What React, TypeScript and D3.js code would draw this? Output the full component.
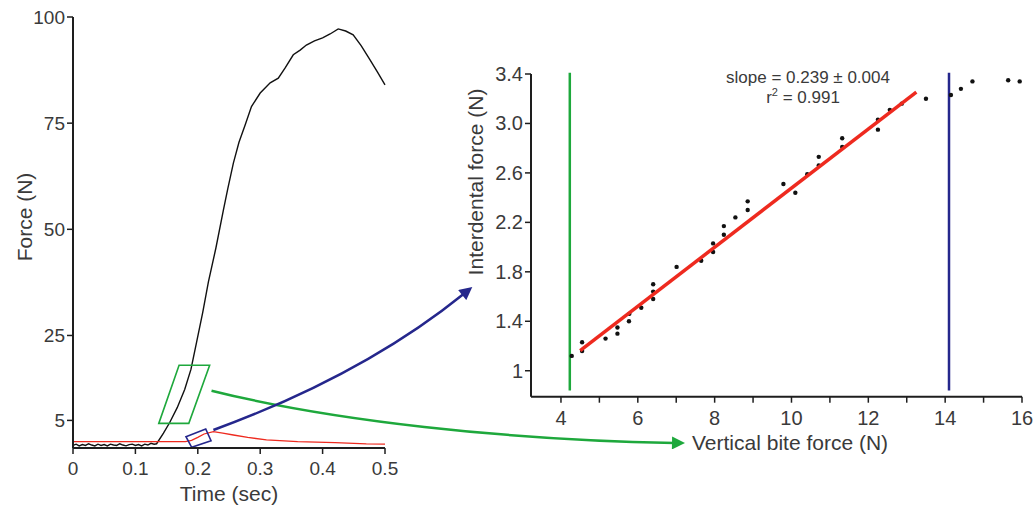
import React from 'react'
import * as d3 from 'd3'

// left panel: force traces over time
const TRACE_TIME = [
  0, 0.005, 0.01, 0.015, 0.02, 0.025, 0.03, 0.035, 0.04, 0.045, 0.05, 0.055, 0.06, 0.065,
  0.07, 0.075, 0.08, 0.085, 0.09, 0.095, 0.1, 0.105, 0.11, 0.115, 0.12, 0.125, 0.13, 0.134,
  0.145, 0.155, 0.167, 0.179, 0.189, 0.198, 0.208, 0.217, 0.229, 0.241, 0.248, 0.257, 0.266,
  0.276, 0.286, 0.3, 0.316, 0.329, 0.34, 0.353, 0.364, 0.374, 0.387, 0.4, 0.412, 0.425,
  0.437, 0.449, 0.462, 0.476, 0.488, 0.5,
]
const VERTICAL_FORCE = [
  -0.9, -0.6, -1.0, -0.7, -0.9, -0.5, -0.8, -1.0, -0.6, -0.9, -0.7, -1.0, -0.6, -0.8,
  -0.9, -0.5, -0.8, -1.0, -0.7, -0.6, -0.9, -0.7, -1.0, -0.6, -0.8, -0.4, -0.6, -0.5,
  2.0, 4.5, 8.0, 12.3, 17.0, 23.4, 30.5, 37.6, 45.6, 54.5, 59.5, 65.6, 70.5,
  74.6, 78.9, 82.1, 84.5, 85.6, 88.0, 91.1, 92.2, 93.4, 94.4, 95.1, 96.0, 97.2,
  96.7, 95.8, 93.2, 89.9, 87.0, 84.0,
]
const INTERDENTAL_TIME = [0, 0.18, 0.19, 0.2, 0.21, 0.225, 0.24, 0.257, 0.28, 0.31, 0.36, 0.42, 0.47, 0.5]
const INTERDENTAL_TRACE = [0, 0, 0.3, 1.0, 1.8, 2.34, 2.0, 1.56, 1.0, 0.4, 0.0, -0.25, -0.55, -0.6]

const LEFT_X_TICKS = [0, 0.1, 0.2, 0.3, 0.4, 0.5]
const LEFT_Y_TICKS = [5, 25, 50, 75, 100]

// selection boxes drawn on the traces (time, force)
const GREEN_BOX = [[0.1375, 4.3], [0.17, 18.0], [0.219, 18.0], [0.1856, 4.3]]
const BLUE_BOX = [[0.181, 1.16], [0.2127, 2.97], [0.2212, 0.22], [0.1902, -1.34]]

// right panel: interdental vs vertical bite force
const BITE = [
  4.28, 4.55, 4.55, 5.16, 5.47, 5.47, 5.77, 5.78, 6.09, 6.4, 6.4, 6.4, 7.01, 7.65, 7.96, 7.96,
  8.24, 8.24, 8.54, 8.86, 8.86, 9.79, 10.1, 10.41, 10.71, 10.71, 11.32, 11.32, 12.25, 12.25,
  12.56, 12.87, 13.5, 14.15, 14.41, 14.71, 15.64, 15.94,
]
const INTERDENTAL = [
  1.12, 1.23, 1.16, 1.26, 1.35, 1.3, 1.4, 1.46, 1.51, 1.7, 1.64, 1.58, 1.84, 1.89, 2.03, 1.96,
  2.17, 2.1, 2.24, 2.37, 2.3, 2.51, 2.44, 2.59, 2.73, 2.66, 2.88, 2.81, 3.03, 2.95,
  3.11, 3.16, 3.2, 3.23, 3.28, 3.34, 3.35, 3.34,
]
const FIT_SLOPE = 0.239
const FIT_INTERCEPT = 0.087
const FIT_RANGE = [4.5, 13.25]
const WINDOW_START = 4.23
const WINDOW_END = 14.1

const RIGHT_X_TICKS = [4, 6, 8, 10, 12, 14, 16]
const RIGHT_X_MINOR = [5, 7, 9, 11, 13, 15]
const RIGHT_Y_TICKS = [1, 1.4, 1.8, 2.2, 2.6, 3.0, 3.4]
const RIGHT_Y_LABELS = ['1', '1.4', '1.8', '2.2', '2.6', '3.0', '3.4']

const FONT = '"Liberation Sans", Arial, sans-serif'
const TEXT = '#3a3a3a'
const AXIS = '#1e1e1e'
const GREEN = '#1ea83c'
const BLUE = '#25278c'
const RED = '#ee2a1f'

export default function App() {
  const x = d3.scaleLinear().domain([0, 0.5]).range([73, 385])
  const y = d3.scaleLinear().domain([-1.5, 100]).range([448, 17])
  const rx = d3.scaleLinear().domain([3.22, 16]).range([531, 1022])
  const ry = d3.scaleLinear().domain([0.79, 3.4]).range([396.7, 74])

  const line = d3.line<number[]>().x(d => x(d[0])).y(d => y(d[1]))
  const black = line(TRACE_TIME.map((t, i) => [t, VERTICAL_FORCE[i]]))
  const red = line(INTERDENTAL_TIME.map((t, i) => [t, INTERDENTAL_TRACE[i]]))
  const box = (pts: number[][]) => line(pts) + 'Z'

  const fit = d3.line<number>().x(d => rx(d)).y(d => ry(FIT_SLOPE * d + FIT_INTERCEPT))(FIT_RANGE)

  // connecting arrows, from the boxes on the left to the right panel's axes
  const gs = [x(0.222), y(12)]
  const ge = [rx(7.27) - 12, ry(0.416)]
  const greenArrow = `M${gs[0]},${gs[1]} C${gs[0] + 120},${gs[1] + 30} ${ge[0] - 170},${ge[1] - 3} ${ge[0]},${ge[1]}`
  const bs = [x(0.225), y(2.74)]
  const be = [rx(1.69), ry(1.69)]
  const blueArrow = `M${bs[0]},${bs[1]} Q${bs[0] + 150},${bs[1] - 55} ${be[0] - 8},${be[1] + 8}`

  const tickText = { fontFamily: FONT, fill: TEXT }

  return (
    <div style={{ position: 'absolute', left: 0, top: 0 }}>
      <svg width={1035} height={506} style={{ display: 'block', background: '#fff' }}>
        <defs>
          <marker id="headGreen" viewBox="0 0 10 10" refX={2} refY={5} markerUnits="userSpaceOnUse"
            markerWidth={14} markerHeight={13} orient="auto">
            <path d="M0,0 L10,5 L0,10 Z" fill={GREEN} />
          </marker>
          <marker id="headBlue" viewBox="0 0 10 10" refX={2} refY={5} markerUnits="userSpaceOnUse"
            markerWidth={14} markerHeight={13} orient="auto">
            <path d="M0,0 L10,5 L0,10 Z" fill={BLUE} />
          </marker>
        </defs>

        {/* left panel */}
        <path d={black!} fill="none" stroke="#111" strokeWidth={1.4} />
        <path d={red!} fill="none" stroke={RED} strokeWidth={1.3} />
        <path d={box(GREEN_BOX)} fill="none" stroke={GREEN} strokeWidth={1.6} />
        <path d={box(BLUE_BOX)} fill="none" stroke={BLUE} strokeWidth={1.6} />

        <line x1={x(0)} x2={x(0)} y1={y(100)} y2={y(-1.5)} stroke={AXIS} strokeWidth={2} />
        <line x1={x(0)} x2={x(0.5)} y1={y(-1.5)} y2={y(-1.5)} stroke={AXIS} strokeWidth={2} />
        {LEFT_Y_TICKS.map(t => (
          <g key={'ly' + t}>
            <line x1={x(0) - 6} x2={x(0)} y1={y(t)} y2={y(t)} stroke={AXIS} strokeWidth={1.5} />
            <text x={x(0) - 8} y={y(t)} dy="0.35em" textAnchor="end" fontSize={19} {...tickText}>{t}</text>
          </g>
        ))}
        {LEFT_X_TICKS.map(t => (
          <g key={'lx' + t}>
            <line x1={x(t)} x2={x(t)} y1={y(-1.5)} y2={y(-1.5) + 6} stroke={AXIS} strokeWidth={1.5} />
            <text x={x(t)} y={475} textAnchor="middle" fontSize={19} {...tickText}>{t}</text>
          </g>
        ))}
        <text x={229} y={501} textAnchor="middle" fontSize={21} {...tickText}>Time (sec)</text>
        <text transform="translate(32,217) rotate(-90)" textAnchor="middle" fontSize={21} {...tickText}>Force (N)</text>

        {/* right panel */}
        <line x1={rx(WINDOW_START)} x2={rx(WINDOW_START)} y1={ry(3.41)} y2={ry(0.84)} stroke={GREEN} strokeWidth={2.5} />
        <line x1={rx(WINDOW_END)} x2={rx(WINDOW_END)} y1={ry(3.41)} y2={ry(0.84)} stroke={BLUE} strokeWidth={2.5} />
        {BITE.map((b, i) => (
          <circle key={'p' + i} cx={rx(b)} cy={ry(INTERDENTAL[i])} r={2.2} fill="#111" />
        ))}
        <path d={fit!} stroke={RED} strokeWidth={3.5} fill="none" />

        <line x1={rx(3.22)} x2={rx(3.22)} y1={ry(3.4)} y2={ry(0.79)} stroke={AXIS} strokeWidth={2} />
        <line x1={rx(3.22)} x2={rx(16)} y1={ry(0.79)} y2={ry(0.79)} stroke={AXIS} strokeWidth={2} />
        {RIGHT_Y_TICKS.map((t, i) => (
          <g key={'ry' + t}>
            <line x1={rx(3.22) - 6} x2={rx(3.22)} y1={ry(t)} y2={ry(t)} stroke={AXIS} strokeWidth={1.5} />
            <text x={rx(3.22) - 8} y={ry(t)} dy="0.35em" textAnchor="end" fontSize={20} {...tickText}>{RIGHT_Y_LABELS[i]}</text>
          </g>
        ))}
        {RIGHT_X_TICKS.concat(RIGHT_X_MINOR).map(t => (
          <line key={'rxt' + t} x1={rx(t)} x2={rx(t)} y1={ry(0.79)} y2={ry(0.79) + 6} stroke={AXIS} strokeWidth={1.5} />
        ))}
        {RIGHT_X_TICKS.map(t => (
          <text key={'rxl' + t} x={rx(t)} y={425} textAnchor="middle" fontSize={20} {...tickText}>{t}</text>
        ))}
        <text x={692} y={450} fontSize={21} {...tickText}>Vertical bite force (N)</text>
        <text transform="translate(483,182) rotate(-90)" textAnchor="middle" fontSize={21} {...tickText}>Interdental force (N)</text>

        <text x={808} y={83} textAnchor="middle" fontSize={17} {...tickText}>slope = 0.239 ± 0.004</text>
        <text x={803} y={103} textAnchor="middle" fontSize={17} {...tickText}>
          r<tspan dy={-7} fontSize={11}>2</tspan><tspan dy={7}> = 0.991</tspan>
        </text>

        {/* connecting arrows */}
        <path d={greenArrow} fill="none" stroke={GREEN} strokeWidth={2.5} markerEnd="url(#headGreen)" />
        <path d={blueArrow} fill="none" stroke={BLUE} strokeWidth={2.5} markerEnd="url(#headBlue)" />
      </svg>
    </div>
  )
}
